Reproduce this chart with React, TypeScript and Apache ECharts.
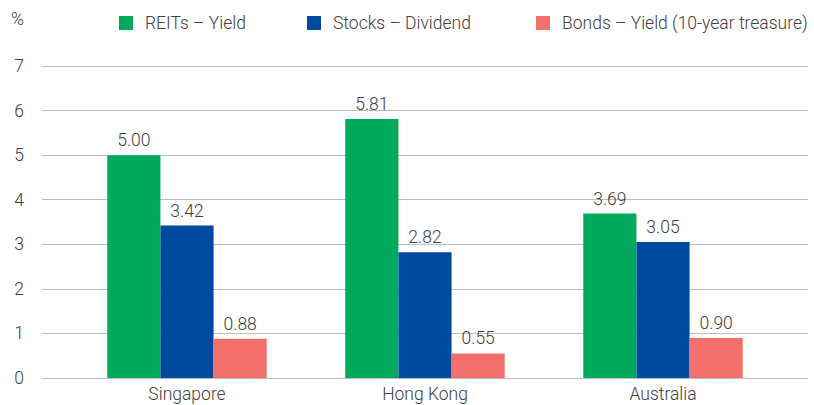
import React, { useEffect, useRef } from "react";
import * as echarts from "echarts";

const categories = ["Singapore", "Hong Kong", "Australia"];
const seriesNames = ["REITs – Yield", "Stocks – Dividend", "Bonds – Yield (10-year treasure)"];
const reits = [5.0, 5.81, 3.69];
const stocks = [3.42, 2.82, 3.05];
const bonds = [0.88, 0.55, 0.9];
const colors = ["#00A95C", "#0049A1", "#F1706B"];

const FONT = "Roboto, 'DejaVu Sans Condensed', sans-serif";
const FW = 300;
const FS = 17.5;
const legendLefts = [114, 302, 531];

export default function App() {
  const ref = useRef<HTMLDivElement>(null);
  useEffect(() => {
    document.body.style.margin = "0";
    if (!ref.current) return;
    const chart = echarts.init(ref.current, null, { renderer: "svg" });
    const values = [reits, stocks, bonds];
    const ts = { fontFamily: FONT, fontWeight: FW, color: "#404040", fontSize: FS };
    chart.setOption({
      animation: false,
      textStyle: ts,
      legend: seriesNames.map((n, i) => ({
        top: 9,
        left: legendLefts[i],
        itemWidth: 14,
        itemHeight: 14,
        icon: "rect",
        textStyle: { ...ts, padding: [0, 0, 0, 7] },
        data: [n],
      })),
      graphic: [
        {
          type: "text",
          left: 11,
          top: 10,
          style: { text: "%", fontFamily: FONT, fontWeight: FW, fontSize: FS, fill: "#404040" },
        },
      ],
      grid: [
        { left: 42, right: 6, top: 66, bottom: 27 },
        { left: 68, right: 32, top: 66, bottom: 27 },
      ],
      xAxis: [
        { type: "value", gridIndex: 0, show: false, min: 0, max: 1 },
        {
          type: "category",
          gridIndex: 1,
          data: categories,
          axisLine: { show: false },
          axisTick: { show: false },
          axisLabel: { ...ts, margin: 7 },
        },
      ],
      yAxis: [
        {
          type: "value",
          gridIndex: 0,
          min: 0,
          max: 7,
          interval: 1,
          axisLine: { show: false },
          axisTick: { show: false },
          axisLabel: { ...ts, margin: 18 },
          splitLine: { lineStyle: { color: "#BDBDBD", width: 1 } },
        },
        {
          type: "value",
          gridIndex: 1,
          min: 0,
          max: 7,
          interval: 1,
          show: false,
          splitLine: { show: false },
        },
      ],
      series: values.map((v, i) => ({
        name: seriesNames[i],
        type: "bar",
        xAxisIndex: 1,
        yAxisIndex: 1,
        data: v,
        barGap: "0%",
        barCategoryGap: "33%",
        itemStyle: { color: colors[i] },
        label: {
          show: true,
          position: "top",
          distance: 6,
          formatter: (p: any) => Number(p.value).toFixed(2),
          ...ts,
        },
      })),
    });
    return () => chart.dispose();
  }, []);
  return <div ref={ref} style={{ width: 814, height: 405 }} />;
}
